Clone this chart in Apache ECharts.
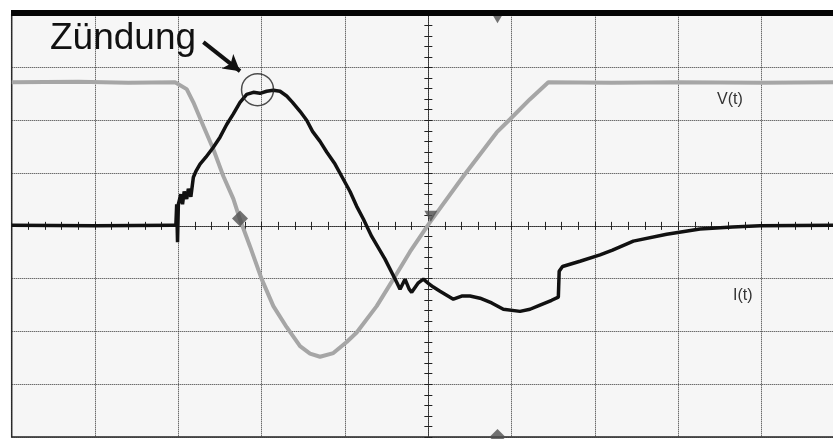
<!DOCTYPE html>
<html>
<head>
<meta charset="utf-8">
<script src="https://cdn.jsdelivr.net/npm/echarts@6/dist/echarts.min.js"></script>
<style>
html,body{margin:0;padding:0;background:#fff;}
#c{width:833px;height:439px;}
</style>
</head>
<body>
<div id="c"></div>
<script>
// Oscilloscope trace, units = screen divisions (x: -5..5, y: -4..4)
const voltageTrace = [
  [-5.00, 2.72], [-4.20, 2.73], [-3.60, 2.71], [-3.04, 2.72], [-2.90, 2.59], [-2.82, 2.34],
  [-2.70, 1.89], [-2.58, 1.45], [-2.46, 0.94], [-2.34, 0.51], [-2.26, 0.12],
  [-2.14, -0.39], [-2.00, -1.01], [-1.86, -1.52], [-1.70, -1.92], [-1.54, -2.28],
  [-1.42, -2.42], [-1.30, -2.48], [-1.14, -2.41], [-0.98, -2.20], [-0.86, -2.02],
  [-0.62, -1.52], [-0.42, -1.01], [-0.22, -0.49], [0.02, 0.07], [0.42, 0.94],
  [0.82, 1.77], [0.98, 2.02], [1.22, 2.40], [1.44, 2.72], [2.20, 2.71], [3.00, 2.72],
  [4.00, 2.71], [5.00, 2.72]
];
const currentTrace = [
  [-5.00, 0.01], [-4.00, 0.00], [-3.06, 0.01], [-3.03, 0.01], [-3.02, 0.41], [-3.01, -0.31],
  [-3.00, 0.41], [-2.97, 0.60], [-2.95, 0.41], [-2.93, 0.65], [-2.90, 0.51], [-2.88, 0.70],
  [-2.85, 0.55], [-2.82, 0.92], [-2.79, 1.03], [-2.74, 1.17], [-2.67, 1.30], [-2.58, 1.49],
  [-2.50, 1.68], [-2.42, 1.92], [-2.34, 2.12], [-2.26, 2.34], [-2.18, 2.49], [-2.10, 2.53],
  [-2.02, 2.51], [-1.94, 2.55], [-1.86, 2.57], [-1.78, 2.55], [-1.70, 2.46], [-1.63, 2.34],
  [-1.54, 2.17], [-1.46, 2.00], [-1.39, 1.79], [-1.30, 1.60], [-1.22, 1.40], [-1.12, 1.17],
  [-1.04, 0.94], [-0.94, 0.65], [-0.86, 0.37], [-0.78, 0.13], [-0.68, -0.20], [-0.52, -0.63],
  [-0.38, -1.07], [-0.34, -1.20], [-0.28, -1.01], [-0.23, -1.20], [-0.20, -1.26],
  [-0.12, -1.08], [-0.06, -1.01], [0.00, -1.09], [0.06, -1.16], [0.14, -1.24], [0.30, -1.39],
  [0.40, -1.33], [0.50, -1.33], [0.62, -1.37], [0.76, -1.46], [0.90, -1.58], [1.10, -1.62],
  [1.22, -1.58], [1.34, -1.50], [1.48, -1.41], [1.56, -1.35], [1.57, -0.86], [1.61, -0.77],
  [1.82, -0.67], [2.06, -0.55], [2.21, -0.46], [2.46, -0.29], [2.86, -0.16], [3.26, -0.06],
  [3.65, -0.02], [3.98, 0.00], [4.86, 0.01]
];
const cursorMarks = [[-2.26, 0.14], [0.03, 0.18], [0.83, 3.94], [0.83, -4.0]];
const cursorShapes = ['diamond', 'triangle', 'triangle', 'diamond'];
const ignitionPoint = [-2.05, 2.58];
const arrowFrom = [-2.70, 3.48];
const arrowTo = [-2.26, 2.93];
const annotation = 'Zündung';
const traceNames = ['V(t)', 'I(t)'];

const chart = echarts.init(document.getElementById('c'), null, {renderer: 'canvas'});
const dotted = {color: '#333', width: 1, type: [1, 1]};
const tickStyle = {color: '#222', width: 1};

function makeX(pos, main) {
  return {
    type: 'value', min: -5, max: 5, interval: 1, position: pos,
    axisLine: {show: main, onZero: true, lineStyle: dotted},
    axisTick: {show: true, inside: false, length: 4, lineStyle: tickStyle},
    minorTick: {show: true, splitNumber: 5, length: 4, lineStyle: tickStyle},
    axisLabel: {show: false},
    splitLine: {show: main, lineStyle: dotted},
    minorSplitLine: {show: false}
  };
}
function makeY(pos, main) {
  return {
    type: 'value', min: -4, max: 4, interval: 1, position: pos,
    axisLine: {show: main, onZero: true, lineStyle: dotted},
    axisTick: {show: true, inside: false, length: 4, lineStyle: tickStyle},
    minorTick: {show: true, splitNumber: 5, length: 4, lineStyle: tickStyle},
    axisLabel: {show: false},
    splitLine: {show: main, lineStyle: dotted},
    minorSplitLine: {show: false}
  };
}

chart.setOption({
  animation: false,
  backgroundColor: '#ffffff',
  grid: {
    left: 11.7, top: 14.7, width: 833.3, height: 422.3,
    outerBoundsMode: 'none', containLabel: false,
    show: true, backgroundColor: '#f6f6f6', borderColor: '#222', borderWidth: 1.5
  },
  xAxis: [makeX('bottom', true), makeX('top', false)],
  yAxis: [makeY('left', true), makeY('right', false)],
  graphic: [
    {type: 'rect', shape: {x: 11, y: 10, width: 830, height: 6}, style: {fill: '#050505'}, z: 100},
    {type: 'text', style: {x: 50, y: 20, text: annotation, font: '37px "Liberation Sans", Arial, sans-serif', fill: '#111'}, z: 100},
    {type: 'text', style: {x: 717, y: 92, text: traceNames[0], font: '16px "Liberation Sans", Arial, sans-serif', fill: '#333'}, z: 100},
    {type: 'text', style: {x: 733, y: 288, text: traceNames[1], font: '16px "Liberation Sans", Arial, sans-serif', fill: '#333'}, z: 100}
  ],
  series: [
    {
      name: traceNames[0], type: 'line', data: voltageTrace, showSymbol: false,
      lineStyle: {color: '#a6a6a6', width: 4}, z: 2
    },
    {
      name: traceNames[1], type: 'line', data: currentTrace, showSymbol: false,
      lineStyle: {color: '#111', width: 3.5}, z: 3,
      markLine: {
        silent: true, symbol: ['none', 'arrow'], symbolSize: [14, 16],
        label: {show: false},
        lineStyle: {color: '#111', width: 4, type: 'solid'},
        data: [[{coord: arrowFrom}, {coord: arrowTo}]]
      }
    },
    {
      type: 'scatter', clip: false, z: 4,
      data: cursorMarks.map((p, i) => ({
        value: p, symbol: cursorShapes[i],
        symbolRotate: cursorShapes[i] === 'triangle' ? 180 : 0,
        symbolSize: cursorShapes[i] === 'triangle' ? [13, 11] : [16, 16]
      })),
      itemStyle: {color: '#505050'}
    },
    {
      type: 'scatter', z: 5, data: [ignitionPoint], symbol: 'circle', symbolSize: 32,
      itemStyle: {color: 'rgba(0,0,0,0)', borderColor: '#222', borderWidth: 1.5}
    }
  ]
});
</script>
</body>
</html>
